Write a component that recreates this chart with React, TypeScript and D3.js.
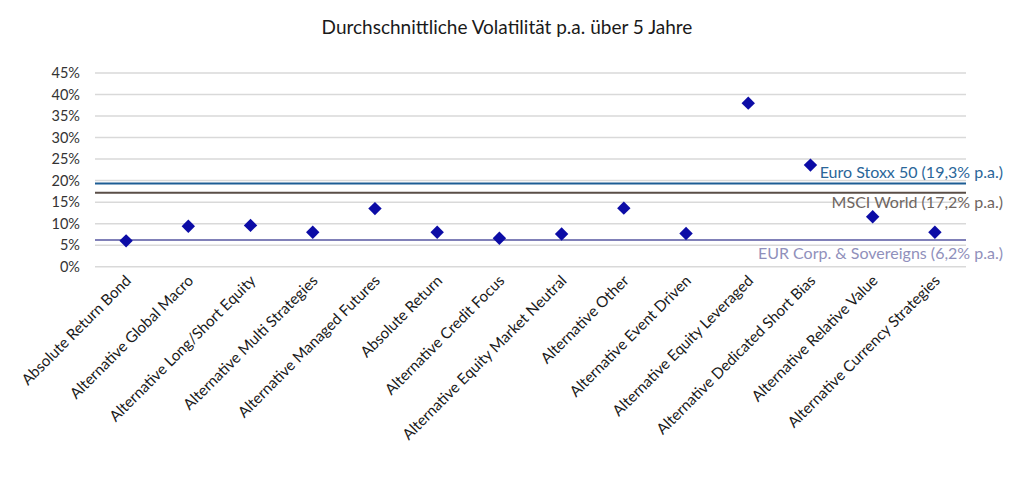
import { useEffect, useRef } from "react";
import * as d3 from "d3";

const categories = [
  "Absolute Return Bond",
  "Alternative Global Macro",
  "Alternative Long/Short Equity",
  "Alternative Multi Strategies",
  "Alternative Managed Futures",
  "Absolute Return",
  "Alternative Credit Focus",
  "Alternative Equity Market Neutral",
  "Alternative Other",
  "Alternative Event Driven",
  "Alternative Equity Leveraged",
  "Alternative Dedicated Short Bias",
  "Alternative Relative Value",
  "Alternative Currency Strategies",
];

const volatility = [6.0, 9.4, 9.6, 8.0, 13.5, 8.0, 6.6, 7.6, 13.6, 7.7, 38.0, 23.6, 11.6, 8.0];

const yTicks = [0, 5, 10, 15, 20, 25, 30, 35, 40, 45];

const benchmarks = [
  { label: "Euro Stoxx 50 (19,3% p.a.)", value: 19.3, line: "#1d5d94", text: "#2a6699", dy: -11 },
  { label: "MSCI World (17,2% p.a.)", value: 17.2, line: "#5a4e47", text: "#6e655f", dy: 10 },
  { label: "EUR Corp. & Sovereigns (6,2% p.a.)", value: 6.2, line: "#8080b8", text: "#9090bb", dy: 13 },
];

const FONT = "Lato, 'Open Sans', sans-serif";

export default function App() {
  const ref = useRef<HTMLDivElement>(null);

  useEffect(() => {
    if (!ref.current) return;
    const container = ref.current;
    d3.select(container).select("svg").remove();

    const width = 1015;
    const height = 478;
    const marginLeft = 95;
    const marginRight = 49;
    const marginTop = 73;
    const y0 = 266.7;

    const x = d3.scaleBand()
      .domain(categories)
      .range([marginLeft, width - marginRight]);

    const y = d3.scaleLinear()
      .domain([0, 45])
      .range([y0, marginTop]);

    const svg = d3.create("svg")
      .attr("width", width)
      .attr("height", height)
      .attr("viewBox", [0, 0, width, height])
      .style("display", "block")
      .style("font-family", FONT);

    svg.append("text")
      .attr("x", 507)
      .attr("y", 34)
      .attr("text-anchor", "middle")
      .attr("font-size", 19)
      .attr("fill", "#1a1a1a")
      .text("Durchschnittliche Volatilität p.a. über 5 Jahre");

    // grid
    svg.append("g")
      .selectAll("line")
      .data(yTicks)
      .join("line")
        .attr("x1", marginLeft)
        .attr("x2", width - marginRight)
        .attr("y1", d => y(d))
        .attr("y2", d => y(d))
        .attr("stroke", "#d9d9d9")
        .attr("stroke-width", 1.5);

    svg.append("g")
      .attr("font-size", 14.5)
      .attr("fill", "#333")
      .attr("text-anchor", "end")
      .selectAll("text")
      .data(yTicks)
      .join("text")
        .attr("x", 80)
        .attr("y", d => y(d))
        .attr("dy", "0.35em")
        .text(d => `${d}%`);

    // benchmark lines
    svg.append("g")
      .selectAll("line")
      .data(benchmarks)
      .join("line")
        .attr("x1", marginLeft)
        .attr("x2", width - marginRight)
        .attr("y1", d => y(d.value))
        .attr("y2", d => y(d.value))
        .attr("stroke", d => d.line)
        .attr("stroke-width", 2);

    // diamonds
    const diamond = d3.symbol().type(d3.symbolSquare).size(90);
    svg.append("g")
      .selectAll("path")
      .data(volatility)
      .join("path")
        .attr("d", diamond)
        .attr("transform", (d, i) => `translate(${x(categories[i])! + x.bandwidth() / 2},${y(d)}) rotate(45)`)
        .attr("fill", "#0c0ca6");

    // benchmark labels
    svg.append("g")
      .attr("font-size", 16)
      .attr("text-anchor", "end")
      .selectAll("text")
      .data(benchmarks)
      .join("text")
        .attr("x", 1003)
        .attr("y", d => y(d.value) + d.dy)
        .attr("dy", "0.35em")
        .attr("fill", d => d.text)
        .text(d => d.label);

    // x labels
    svg.append("g")
      .attr("font-size", 15.2)
      .attr("fill", "#1a1a1a")
      .attr("text-anchor", "end")
      .selectAll("text")
      .data(categories)
      .join("text")
        .attr("transform", d => `translate(${x(d)! + x.bandwidth() / 2 + 6},${y0 + 15}) rotate(-45)`)
        .text(d => d);

    container.append(svg.node()!);
  }, []);

  return <div ref={ref} style={{ margin: -8 }} />;
}
